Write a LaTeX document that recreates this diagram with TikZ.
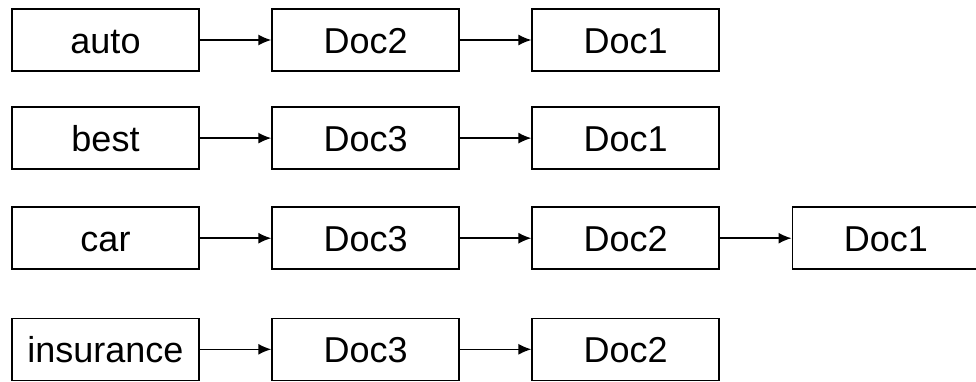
\documentclass[tikz,border=0pt]{standalone}
\usepackage{fontspec}
\setmainfont{Liberation Sans}
\usetikzlibrary{positioning,arrows.meta}

\begin{document}
\begin{tikzpicture}[x=1pt,y=1pt,
    term/.style={draw,line width=1.6pt,minimum width=187pt,minimum height=62pt,
      inner sep=0pt,text height=26pt,text depth=0pt,
      font=\fontsize{36}{40}\selectfont},
    doc/.style={term},
    link/.style={line width=1.5pt,-{Latex[length=13pt,width=11pt]}},
    node distance=34.5pt and 71.5pt]
    \useasboundingbox (0,0) rectangle (976,-381);

    % The terms of the index
    \node[term] (auto) at (105.5,-40) {auto};
    \node[term,below=34.5pt of auto] (best) {best};
    \node[term,below=36.5pt of best] (car) {car};
    \node[term,below=47.5pt of car] (insurance) {insurance};

    % The posting list of each term
    \node[doc,right=of auto] (auto2) {Doc2};
    \node[doc,right=of auto2] (auto1) {Doc1};

    \node[doc,right=of best] (best3) {Doc3};
    \node[doc,right=of best3] (best1) {Doc1};

    \node[doc,right=of car] (car3) {Doc3};
    \node[doc,right=of car3] (car2) {Doc2};
    \node[doc,right=of car2] (car1) {Doc1};

    \node[doc,right=of insurance] (insurance3) {Doc3};
    \node[doc,right=of insurance3] (insurance2) {Doc2};

    % The pointers
    \draw[link] (auto) -- (auto2);
    \draw[link] (auto2) -- (auto1);
    \draw[link] (best) -- (best3);
    \draw[link] (best3) -- (best1);
    \draw[link] (car) -- (car3);
    \draw[link] (car3) -- (car2);
    \draw[link] (car2) -- (car1);
    \draw[link] (insurance) -- (insurance3);
    \draw[link] (insurance3) -- (insurance2);
  \end{tikzpicture}
\end{document}
